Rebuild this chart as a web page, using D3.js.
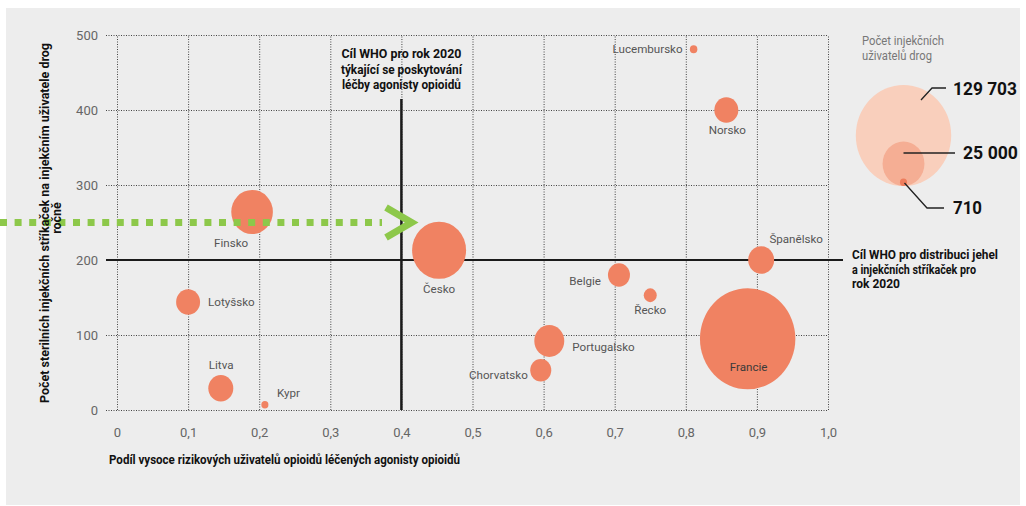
<!DOCTYPE html>
<html lang="cs">
<head>
<meta charset="UTF-8">
<title>Injekční uživatelé drog</title>
<style>
  body { margin: 0; background: #fff; }
  svg text { font-family: "Roboto", "DejaVu Sans", sans-serif; }
</style>
</head>
<body>
<script src="https://d3js.org/d3.v7.min.js"></script>
<script>
// data
let countries = ["Lucembursko", "Norsko", "Španělsko", "Belgie", "Řecko", "Portugalsko", "Chorvatsko", "Francie", "Česko", "Finsko", "Lotyšsko", "Litva", "Kypr"];
let share = [0.811, 0.857, 0.906, 0.706, 0.750, 0.608, 0.596, 0.887, 0.453, 0.190, 0.100, 0.146, 0.208];
let syringes = [481, 400, 200, 180, 153, 92, 53, 95, 213, 264, 144, 29, 7];
let users = [800, 8200, 9600, 6900, 2400, 12800, 6300, 129703, 41500, 24700, 8200, 8900, 710];
let xTicks = [0, 0.1, 0.2, 0.3, 0.4, 0.5, 0.6, 0.7, 0.8, 0.9, 1.0];
let yTicks = [0, 100, 200, 300, 400, 500];
let legendValues = [129703, 25000, 710];

// label placement per country (anchor, dx, dy from bubble centre)
let labelPos = {
  "Lucembursko": ["end", -11, 4], "Norsko": ["middle", 1, 24], "Španělsko": ["middle", 35, -17],
  "Belgie": ["end", -18, 10], "Řecko": ["middle", 0, 19], "Portugalsko": ["start", 23, 10],
  "Chorvatsko": ["end", -13, 9], "Francie": ["middle", 1, 32], "Česko": ["middle", 0, 43],
  "Finsko": ["middle", -21, 35], "Lotyšsko": ["start", 20, 4], "Litva": ["start", -12, -19],
  "Kypr": ["start", 12, -8]
};

let width = 1026, height = 506;
let svg = d3.select("body").append("svg")
  .attr("width", width).attr("height", height);

svg.append("rect").attr("x", 6).attr("y", 8).attr("width", 1014).attr("height", 497).attr("fill", "#ededed");

let x = d3.scaleLinear().domain([0, 1]).range([117, 828]);
let y = d3.scaleLinear().domain([0, 500]).range([410, 35]);
let r = d3.scaleSqrt().domain([0, 129703]).range([0, 47.7]);
let stretch = 1.06; // bubbles in the source are slightly taller than wide

// grid + tick labels
let gy = svg.append("g").attr("transform", "translate(106,0)")
  .call(d3.axisLeft(y).tickValues(yTicks).tickSize(-(x(1) - 106)).tickPadding(8).tickFormat(d3.format("d")));
let gx = svg.append("g").attr("transform", "translate(0," + y(0) + ")")
  .call(d3.axisBottom(x).tickValues(xTicks).tickSize(-(y(0) - y(500))).tickPadding(18)
    .tickFormat(d => d === 0 ? "0" : d3.format(".1f")(d).replace(".", ",")));
[gx, gy].forEach(g => {
  g.select(".domain").remove();
  g.selectAll(".tick line").attr("stroke", "#444").attr("stroke-width", 1).attr("stroke-dasharray", "1,1.5");
  g.selectAll(".tick text").attr("fill", "#666").style("font-size", "13px");
});

// WHO target lines
svg.append("line").attr("x1", 106).attr("x2", 843).attr("y1", y(200)).attr("y2", y(200))
  .attr("stroke", "#1a1a1a").attr("stroke-width", 2);
svg.append("line").attr("x1", x(0.4)).attr("x2", x(0.4)).attr("y1", 99).attr("y2", y(0))
  .attr("stroke", "#1a1a1a").attr("stroke-width", 2.5);

// bubbles
let data = countries.map((c, i) => ({ name: c, x: share[i], y: syringes[i], n: users[i] }));
svg.append("g").selectAll("ellipse").data(data).enter().append("ellipse")
  .attr("cx", d => x(d.x)).attr("cy", d => y(d.y))
  .attr("rx", d => r(d.n)).attr("ry", d => r(d.n) * stretch)
  .attr("fill", "#f08262");

svg.append("g").selectAll("text").data(data).enter().append("text")
  .attr("x", d => x(d.x) + labelPos[d.name][1])
  .attr("y", d => y(d.y) + labelPos[d.name][2])
  .attr("text-anchor", d => labelPos[d.name][0])
  .attr("fill", d => d.name === "Francie" ? "#3a3a3a" : "#555")
  .style("font-size", "11.6px")
  .text(d => d.name);

// green arrow
let ay = y(250);
svg.append("line").attr("x1", 0).attr("x2", 382).attr("y1", ay).attr("y2", ay)
  .attr("stroke", "#8dc84a").attr("stroke-width", 7).attr("stroke-dasharray", "7,7.6");
svg.append("polyline")
  .attr("points", [[386, ay - 15], [x(0.42) - 4, ay], [386, ay + 15]].map(p => p.join(",")).join(" "))
  .attr("fill", "none").attr("stroke", "#8dc84a").attr("stroke-width", 7).attr("stroke-linejoin", "miter");

// multi-line text, each line squeezed to the width it has in the source
function lines(tx, ty, arr, widths, anchor, size, lh, weight, color) {
  let t = svg.append("text").attr("text-anchor", anchor).attr("fill", color)
    .style("font-size", size + "px").style("font-weight", weight);
  arr.forEach((s, i) => t.append("tspan").attr("x", tx).attr("y", ty + i * lh)
    .attr("textLength", widths[i]).attr("lengthAdjust", "spacingAndGlyphs").text(s));
  return t;
}
lines(x(0.4), 58, ["Cíl WHO pro rok 2020", "týkající se poskytování", "léčby agonisty opioidů"], [120, 121, 119], "middle", 12.5, 15.5, "bold", "#111");
lines(852, 259, ["Cíl WHO pro distribuci jehel", "a injekčních stříkaček pro", "rok 2020"], [146, 124, 48], "start", 12.5, 14.5, "bold", "#111");

// axis titles
lines(109, 464, ["Podíl vysoce rizikových uživatelů opioidů léčených agonisty opioidů"], [351], "start", 12.5, 0, "bold", "#111");
let yt = svg.append("text").attr("transform", "translate(49,223) rotate(-90)")
  .attr("text-anchor", "middle").attr("fill", "#111")
  .style("font-size", "12.5px").style("font-weight", "bold");
yt.append("tspan").attr("x", 0).attr("y", 0).attr("textLength", 360).attr("lengthAdjust", "spacingAndGlyphs")
  .text("Počet sterilních injekčních stříkaček na injekčním uživatele drog");
yt.append("tspan").attr("x", 5).attr("y", 12).text("ročně");

// legend
lines(862, 45, ["Počet injekčních", "uživatelů drog"], [82, 70], "start", 12.5, 14.5, "normal", "#777");
let lx = 903.5, lb = 186;
let legendFill = ["#f9cfbc", "#f5ae94", "#ee7d5c"];
svg.append("g").selectAll("ellipse").data(legendValues).enter().append("ellipse")
  .attr("cx", lx).attr("cy", d => lb - r(d) * stretch)
  .attr("rx", d => r(d)).attr("ry", d => r(d) * stretch)
  .attr("fill", (d, i) => legendFill[i]);
let leaders = [
  [[921, 100], [932, 88], [946, 88]],
  [[lx, 153], [955, 153]],
  [[lx + 1, lb - 3], [927, 208], [944, 208]]
];
svg.append("g").selectAll("polyline").data(leaders).enter().append("polyline")
  .attr("points", d => d.map(p => p.join(",")).join(" "))
  .attr("fill", "none").attr("stroke", "#222").attr("stroke-width", 1.3);
let legendLabelPos = [[953, 95], [963, 159], [953, 214]];
let legendLabelW = [64, 55, 29];
svg.append("g").selectAll("text").data(legendValues).enter().append("text")
  .attr("x", (d, i) => legendLabelPos[i][0]).attr("y", (d, i) => legendLabelPos[i][1])
  .attr("textLength", (d, i) => legendLabelW[i]).attr("lengthAdjust", "spacingAndGlyphs")
  .attr("fill", "#111").style("font-size", "19px").style("font-weight", "bold")
  .text(d => d3.format(",")(d).replace(",", " "));
</script>
</body>
</html>
